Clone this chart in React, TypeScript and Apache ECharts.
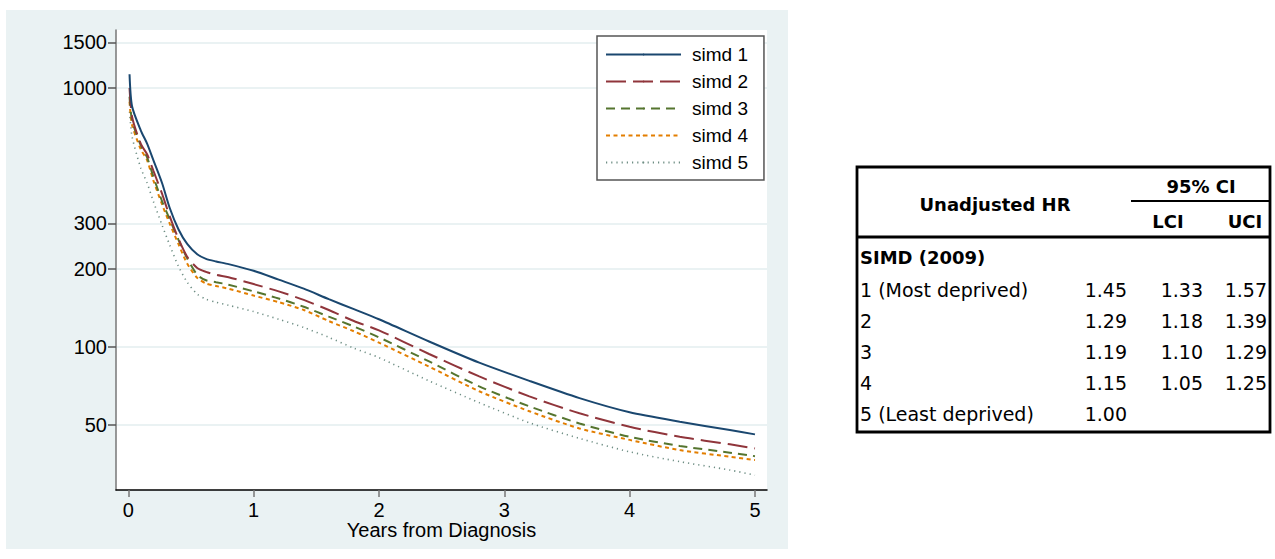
import React, { useEffect, useRef } from "react";
import * as echarts from "echarts";

// ---- Data ----
const years = [0.01, 0.03, 0.1, 0.15, 0.2, 0.27, 0.33, 0.4, 0.47, 0.55, 0.62, 0.7, 0.8, 1.0, 1.2, 1.4, 1.6, 1.8, 2.0, 2.4, 2.8, 3.2, 3.6, 4.0, 4.4, 4.8, 5.0];
const simd1 = [1130, 850, 685, 610, 527, 429, 345, 285, 250, 228, 219, 214, 209, 197, 182, 168, 153, 140, 128, 105, 87, 74, 63.5, 56, 51.5, 47.8, 46];
const simd2 = [1000, 775, 608, 555, 480, 390, 320, 262, 223, 202, 195, 190, 186, 175, 164, 152, 139, 126, 116, 94, 77, 64.5, 55.5, 49.2, 45, 42.1, 40.6];
const simd3 = [925, 750, 600, 540, 455, 365, 312, 260, 220, 190, 181, 178, 174, 164, 154, 143, 131, 120, 109, 88, 70.5, 59, 50.7, 45, 41.5, 39.1, 37.9];
const simd4 = [885, 720, 580, 527, 440, 355, 300, 250, 210, 185, 176, 172, 168, 158, 149, 139, 126, 115, 104, 84, 67.5, 56.5, 48.5, 43.8, 40, 37.7, 36.6];
const simd5 = [810, 650, 490, 430, 365, 295, 248, 205, 178, 160, 153, 149, 145, 137, 128, 119, 109, 99, 91, 74, 61, 51, 44.4, 39.4, 36.1, 33.5, 32];
const seriesNames = ["simd 1", "simd 2", "simd 3", "simd 4", "simd 5"];
const seriesValues = [simd1, simd2, simd3, simd4, simd5];

const yTicks = [50, 100, 200, 300, 1000, 1500];
const xTicks = [0, 1, 2, 3, 4, 5];
const xTitle = "Years from Diagnosis";

const tableTitle = "Unadjusted HR";
const tableCI = "95% CI";
const tableLCIHead = "LCI";
const tableUCIHead = "UCI";
const tableGroup = "SIMD (2009)";
const tableRowLabels = ["1 (Most deprived)", "2", "3", "4", "5 (Least deprived)"];
const tableHR = ["1.45", "1.29", "1.19", "1.15", "1.00"];
const tableLCI = ["1.33", "1.18", "1.10", "1.05", ""];
const tableUCI = ["1.57", "1.39", "1.29", "1.25", ""];

// ---- Styles ----
const colors = ["#1a476f", "#90353b", "#55752f", "#e37e00", "#6e8e84"];
const dashes: any[] = ["solid", [20, 7], [9, 6], [4, 3.5], [1.2, 4]];
const widths = [2, 2, 2, 2, 1.6];
const FONT = "Liberation Sans, Arial, sans-serif";
const TFONT = "DejaVu Sans, Verdana, sans-serif";

export default function App() {
  const ref = useRef<HTMLDivElement>(null);
  useEffect(() => {
    if (!ref.current) return;
    const chart = echarts.init(ref.current, undefined, { renderer: "svg" });

    const series = seriesNames.map((name, k) => ({
      name,
      type: "line",
      data: years.map((x, i) => [x, Math.log10(seriesValues[k][i])]),
      showSymbol: false,
      symbol: "none",
      smooth: 0.25,
      lineStyle: { color: colors[k], width: widths[k], type: dashes[k] },
      itemStyle: { color: colors[k] },
      z: 10 - k,
    }));

    const rowY0 = 290;
    const rowStep = 31;
    const tableGraphics: any[] = [
      { type: "rect", shape: { x: 857, y: 167, width: 413, height: 265 }, style: { fill: "#fff", stroke: "#000", lineWidth: 2.8 } },
      { type: "line", shape: { x1: 857, y1: 237, x2: 1270, y2: 237 }, style: { stroke: "#000", lineWidth: 2.8 } },
      { type: "line", shape: { x1: 1131, y1: 201, x2: 1270, y2: 201 }, style: { stroke: "#000", lineWidth: 2 } },
      { type: "text", x: 995, y: 204, style: { text: tableTitle, font: `bold 18px ${TFONT}`, fill: "#000", textAlign: "center", textVerticalAlign: "middle" } },
      { type: "text", x: 1201, y: 186, style: { text: tableCI, font: `bold 18px ${TFONT}`, fill: "#000", textAlign: "center", textVerticalAlign: "middle" } },
      { type: "text", x: 1168, y: 221, style: { text: tableLCIHead, font: `bold 18px ${TFONT}`, fill: "#000", textAlign: "center", textVerticalAlign: "middle" } },
      { type: "text", x: 1245, y: 221, style: { text: tableUCIHead, font: `bold 18px ${TFONT}`, fill: "#000", textAlign: "center", textVerticalAlign: "middle" } },
      { type: "text", x: 860, y: 257, style: { text: tableGroup, font: `bold 18px ${TFONT}`, fill: "#000", textAlign: "left", textVerticalAlign: "middle" } },
    ];
    tableRowLabels.forEach((lab, i) => {
      const y = rowY0 + i * rowStep;
      tableGraphics.push({ type: "text", x: 860, y, style: { text: lab, font: `19px ${TFONT}`, fill: "#000", textAlign: "left", textVerticalAlign: "middle" } });
      tableGraphics.push({ type: "text", x: 1127, y, style: { text: tableHR[i], font: `19px ${TFONT}`, fill: "#000", textAlign: "right", textVerticalAlign: "middle" } });
      tableGraphics.push({ type: "text", x: 1203, y, style: { text: tableLCI[i], font: `19px ${TFONT}`, fill: "#000", textAlign: "right", textVerticalAlign: "middle" } });
      tableGraphics.push({ type: "text", x: 1267, y, style: { text: tableUCI[i], font: `19px ${TFONT}`, fill: "#000", textAlign: "right", textVerticalAlign: "middle" } });
    });

    chart.setOption({
      animation: false,
      backgroundColor: "#fff",
      graphic: [
        { type: "rect", z: -100, silent: true, shape: { x: 6, y: 10, width: 782, height: 539 }, style: { fill: "#eaf2f3" } },
        ...tableGraphics,
      ],
      grid: { left: 116, right: 1275 - 767, top: 30, bottom: 559 - 490, show: true, backgroundColor: "#fff", borderWidth: 0 },
      legend: {
        orient: "vertical",
        left: 597,
        top: 36,
        itemWidth: 75,
        itemHeight: 2,
        itemGap: 8,
        padding: [9, 16, 8, 8],
        borderColor: "#555",
        borderWidth: 1.5,
        backgroundColor: "#fff",
        textStyle: { fontSize: 19, fontFamily: FONT, color: "#000", padding: [0, 0, 0, 6] },
        data: seriesNames,
      },
      xAxis: {
        type: "value",
        min: -0.098,
        max: 5.096,
        name: xTitle,
        nameLocation: "middle",
        nameGap: 30,
        nameMoveOverlap: false,
        nameTextStyle: { fontSize: 20, fontFamily: FONT, color: "#000" },
        axisLine: { show: true, onZero: false, lineStyle: { color: "#000", width: 1.5 } },
        axisTick: { show: true, length: 7, customValues: xTicks, lineStyle: { color: "#777", width: 1.5 } },
        axisLabel: { customValues: xTicks, fontSize: 20, fontFamily: FONT, color: "#000", margin: 10, formatter: (v: number) => String(Math.round(v)) },
        splitLine: { show: false },
      },
      yAxis: {
        type: "value",
        min: 1.448,
        max: 3.224,
        axisLine: { show: true, onZero: false, lineStyle: { color: "#777", width: 1.5 } },
        axisTick: { show: true, length: 8, customValues: yTicks.map((v) => Math.log10(v)), lineStyle: { color: "#555", width: 1.5 } },
        axisLabel: { customValues: yTicks.map((v) => Math.log10(v)), fontSize: 20, fontFamily: FONT, color: "#000", margin: 9, formatter: (v: number) => String(Math.round(Math.pow(10, v))) },
        splitLine: { show: true, lineStyle: { color: "#eaf2f3", width: 2 } },
      },
      series,
    });
    return () => chart.dispose();
  }, []);
  return <div ref={ref} style={{ position: "absolute", left: 0, top: 0, width: 1275, height: 559 }} />;
}
